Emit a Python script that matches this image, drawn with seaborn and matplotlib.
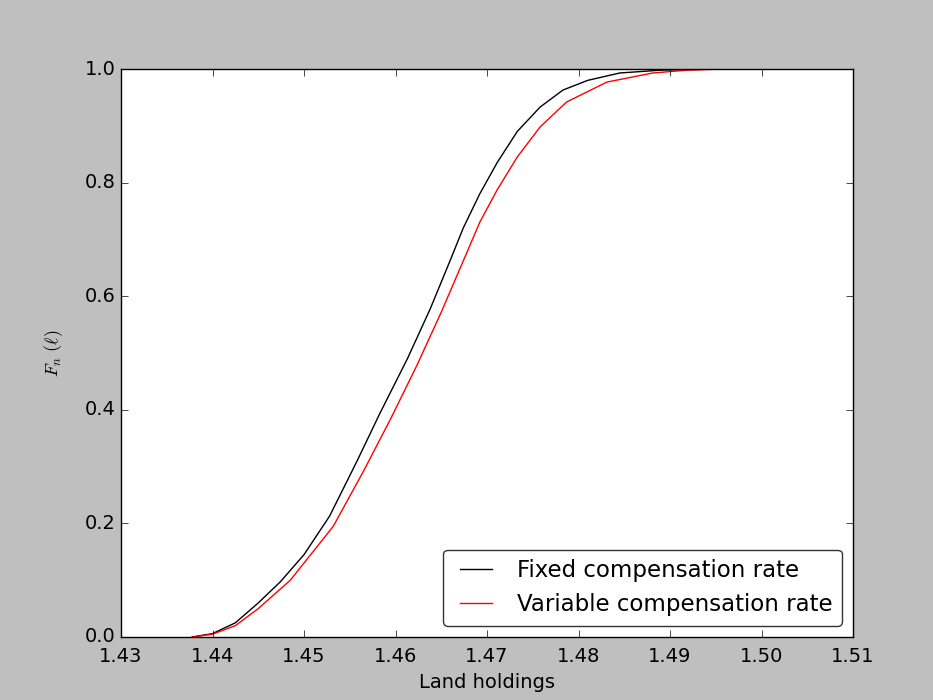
import pandas as pd
import matplotlib
matplotlib.use('Agg')
import matplotlib.pyplot as plt
import seaborn as sns

fixed_x = [1.4378, 1.4400, 1.4425, 1.4450, 1.4474, 1.4500, 1.4528, 1.4558, 1.4583,
           1.4613, 1.4638, 1.4660, 1.4674, 1.4692, 1.4711, 1.4733, 1.4758, 1.4783,
           1.4810, 1.4845, 1.4890, 1.4950, 1.5005]
fixed_f = [0.0, 0.006, 0.025, 0.060, 0.097, 0.145, 0.213, 0.310, 0.394,
           0.490, 0.578, 0.664, 0.720, 0.780, 0.835, 0.890, 0.933, 0.963,
           0.980, 0.993, 0.998, 1.0, 1.0]

var_x = [1.4378, 1.4400, 1.4425, 1.4450, 1.4485, 1.4532, 1.4565, 1.4594, 1.4623,
         1.4650, 1.4674, 1.4692, 1.4711, 1.4733, 1.4758, 1.4787, 1.4831, 1.4881,
         1.4919, 1.4960, 1.5005]
var_f = [0.0, 0.005, 0.020, 0.050, 0.100, 0.195, 0.292, 0.382, 0.477,
         0.572, 0.662, 0.730, 0.787, 0.845, 0.898, 0.942, 0.977, 0.993,
         0.998, 1.0, 1.0]

labels = ['Fixed compensation rate', 'Variable compensation rate']

df = pd.concat([
    pd.DataFrame({'x': fixed_x, 'F': fixed_f, 'scheme': labels[0]}),
    pd.DataFrame({'x': var_x, 'F': var_f, 'scheme': labels[1]}),
])

plt.style.use('classic')
plt.rcParams['font.size'] = 14
fig = plt.figure(figsize=(9.33, 7), dpi=100)
ax = fig.add_axes([0.1297, 0.09, 0.7846, 0.8114])

sns.lineplot(data=df, x='x', y='F', hue='scheme', palette=['k', 'r'],
             sort=False, estimator=None, linewidth=1.0, ax=ax)

ax.set_xlim(1.43, 1.51)
ax.set_ylim(0, 1.0)
ax.set_xticks([1.43, 1.44, 1.45, 1.46, 1.47, 1.48, 1.49, 1.50, 1.51])
ax.set_yticks([0.0, 0.2, 0.4, 0.6, 0.8, 1.0])
ax.tick_params(length=5)
ax.tick_params(axis='x', pad=7)
ax.set_xlabel('Land holdings', fontsize=14)
ax.set_ylabel(r'$F_n\ (\ell)$', fontsize=13, labelpad=14)
leg = ax.legend(loc='lower right', fontsize=16.5, fancybox=True)
leg.get_frame().set_edgecolor('#333333')

fig.savefig('out.png', dpi=100, facecolor=fig.get_facecolor())
